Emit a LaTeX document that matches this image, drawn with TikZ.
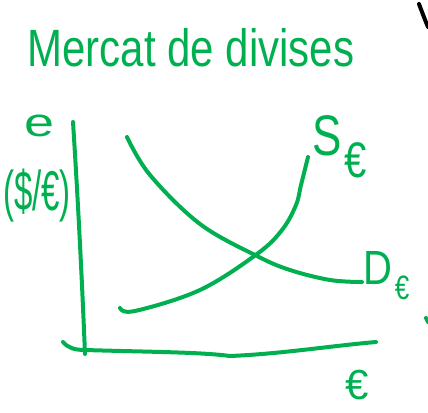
\documentclass[tikz,border=0pt]{standalone}
\usepackage{fontspec}
\setmainfont{Liberation Sans}
\definecolor{pen}{RGB}{0,176,80}
\begin{document}
\begin{tikzpicture}[x=1pt,y=-1pt,
  stroke/.style={draw=pen,line width=4pt,line cap=round,line join=round},
  hand/.style={text=pen,inner sep=0pt,anchor=center}]
\useasboundingbox (0,0) rectangle (428,412);
% title
\node[hand,font=\fontsize{42}{42}\selectfont,yscale=1.25] (title) at (191,48) {Mercat de divises};
% axes
\draw[stroke] (73,122) .. controls (78,200) and (82,280) .. (85,354);
\draw[stroke] (63,342) .. controls (68,348) and (75,350) .. (85,350)
  .. controls (150,352) and (200,352) .. (230,356)
  .. controls (280,354) and (330,346) .. (376,342);
% demand curve
\draw[stroke] plot[smooth,tension=0.6] coordinates {(127,137) (150,175) (200,224) (257,256) (290,270) (330,280) (362,282)};
% supply curve
\draw[stroke] plot[smooth,tension=0.6] coordinates {(120,308) (135,311) (200,290) (257,254) (282,230) (296,205) (301,185) (308,157)};
% axis labels
\node[hand,font=\fontsize{40}{40}\selectfont,xscale=1.35] (e) at (40,126) {e};
\node[hand,font=\fontsize{33}{33}\selectfont,yscale=1.7] (unit) at (37,196) {(\$/€)};
\node[hand,font=\fontsize{42}{42}\selectfont] (eur) at (357,385) {€};
% curve labels
\node[hand,font=\fontsize{44}{44}\selectfont,yscale=1.3] (S) at (327,136) {S};
\node[hand,font=\fontsize{40}{40}\selectfont,yscale=1.25] (Se) at (356,160) {€};
\node[hand,font=\fontsize{40}{40}\selectfont,yscale=1.2] (D) at (378,268) {D};
\node[hand,font=\fontsize{26}{26}\selectfont,yscale=1.3] (De) at (402,288) {€};
% stray strokes at the edge
\draw[line width=4pt,line cap=round] (419,4) .. controls (422,12) and (425,20) .. (428,27);
\draw[stroke] (426,318) -- (428,322);
\end{tikzpicture}
\end{document}
